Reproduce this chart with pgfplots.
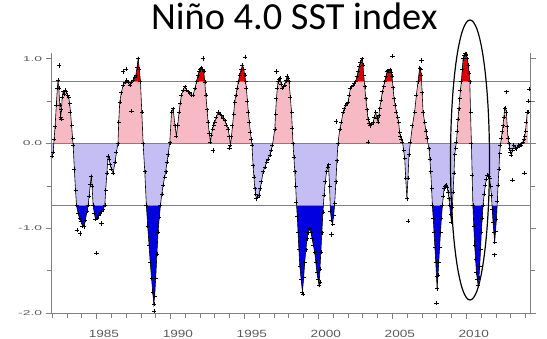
\documentclass[border=0pt]{standalone}
\usepackage{pgfplots}
\pgfplotsset{compat=1.18}
\usepackage{pgfplotstable}
\usepackage{graphicx}
\usepackage{fontspec}
\newfontfamily\titlefont{Carlito}
\newfontfamily\tickfont{Liberation Sans}
\definecolor{pinkc}{RGB}{247,185,196}
\definecolor{redc}{RGB}{222,0,0}
\definecolor{lavc}{RGB}{196,190,245}
\definecolor{bluec}{RGB}{0,0,225}
\definecolor{axgray}{RGB}{128,128,128}
\definecolor{labgray}{RGB}{90,90,90}

\pgfplotstableread{
t v
1982.00 -0.15
1982.07 -0.10
1982.13 0.05
1982.20 0.20
1982.28 0.45
1982.35 0.65
1982.40 0.75
1982.45 0.65
1982.52 0.45
1982.57 0.31
1982.63 0.40
1982.68 0.55
1982.74 0.61
1982.82 0.58
1982.90 0.63
1982.97 0.61
1983.05 0.57
1983.12 0.55
1983.18 0.47
1983.24 0.37
1983.31 0.22
1983.38 0.06
1983.42 -0.02
1983.50 -0.30
1983.58 -0.55
1983.65 -0.73
1983.75 -0.82
1983.85 -0.88
1983.95 -0.92
1984.05 -0.97
1984.15 -0.98
1984.25 -0.90
1984.35 -0.80
1984.43 -0.73
1984.50 -0.62
1984.58 -0.48
1984.64 -0.39
1984.70 -0.50
1984.77 -0.73
1984.85 -0.82
1984.93 -0.89
1985.05 -0.88
1985.15 -0.85
1985.25 -0.82
1985.35 -0.80
1985.45 -0.77
1985.56 -0.73
1985.62 -0.55
1985.70 -0.35
1985.78 -0.15
1985.85 -0.18
1985.92 -0.25
1986.00 -0.30
1986.12 -0.35
1986.25 -0.22
1986.35 -0.10
1986.45 0.00
1986.50 0.25
1986.57 0.49
1986.68 0.60
1986.80 0.69
1986.92 0.72
1987.03 0.75
1987.14 0.72
1987.25 0.69
1987.36 0.72
1987.47 0.75
1987.57 0.78
1987.66 0.81
1987.74 0.90
1987.81 1.00
1987.89 0.88
1987.97 0.73
1988.06 0.37
1988.15 0.00
1988.26 -0.33
1988.37 -0.73
1988.46 -0.97
1988.55 -1.20
1988.63 -1.40
1988.72 -1.59
1988.80 -1.75
1988.87 -1.89
1988.93 -1.80
1989.00 -1.59
1989.08 -1.30
1989.16 -1.04
1989.24 -0.87
1989.32 -0.73
1989.41 -0.60
1989.50 -0.49
1989.60 -0.40
1989.68 -0.33
1989.76 -0.22
1989.84 -0.13
1989.95 0.01
1990.07 0.37
1990.18 0.41
1990.30 0.21
1990.40 0.09
1990.49 0.22
1990.58 0.37
1990.66 0.48
1990.74 0.57
1990.85 0.63
1990.97 0.67
1991.08 0.63
1991.19 0.61
1991.30 0.60
1991.42 0.57
1991.53 0.57
1991.65 0.65
1991.76 0.73
1991.85 0.80
1991.93 0.85
1992.01 0.88
1992.09 0.89
1992.17 0.88
1992.25 0.85
1992.32 0.72
1992.39 0.57
1992.47 0.40
1992.54 0.25
1992.62 0.12
1992.70 0.02
1992.77 0.10
1992.84 0.17
1992.92 0.22
1992.99 0.25
1993.10 0.31
1993.22 0.37
1993.33 0.35
1993.45 0.33
1993.56 0.30
1993.67 0.27
1993.78 0.22
1993.90 0.17
1993.98 0.08
1994.05 -0.02
1994.12 0.08
1994.19 0.21
1994.27 0.35
1994.34 0.49
1994.42 0.57
1994.50 0.65
1994.59 0.73
1994.68 0.81
1994.77 0.87
1994.86 0.92
1994.94 0.88
1995.02 0.81
1995.08 0.73
1995.13 0.65
1995.20 0.50
1995.26 0.37
1995.33 0.25
1995.40 0.13
1995.46 0.05
1995.51 -0.02
1995.58 -0.26
1995.64 -0.40
1995.70 -0.53
1995.76 -0.60
1995.81 -0.65
1995.89 -0.63
1995.97 -0.61
1996.06 -0.53
1996.15 -0.45
1996.26 -0.33
1996.38 -0.28
1996.49 -0.22
1996.60 -0.18
1996.71 -0.14
1996.80 -0.08
1996.89 -0.02
1997.05 0.17
1997.10 0.35
1997.16 0.53
1997.22 0.65
1997.27 0.73
1997.33 0.76
1997.39 0.77
1997.48 0.70
1997.57 0.65
1997.65 0.67
1997.72 0.69
1997.80 0.74
1997.88 0.79
1997.95 0.77
1998.01 0.73
1998.10 0.55
1998.18 0.37
1998.23 0.18
1998.28 0.00
1998.34 -0.16
1998.40 -0.33
1998.46 -0.50
1998.51 -0.69
1998.57 -0.86
1998.62 -1.04
1998.68 -1.25
1998.74 -1.44
1998.83 -1.60
1998.92 -1.75
1999.00 -1.58
1999.07 -1.40
1999.15 -1.25
1999.23 -1.12
1999.32 -1.05
1999.41 -1.00
1999.49 -1.05
1999.57 -1.12
1999.66 -1.20
1999.75 -1.28
1999.82 -1.40
1999.90 -1.52
1999.97 -1.60
2000.04 -1.67
2000.10 -1.48
2000.16 -1.28
2000.23 -1.05
2000.30 -0.81
2000.38 -0.61
2000.46 -0.45
2000.55 -0.33
2000.62 -0.28
2000.68 -0.25
2000.75 -0.50
2000.81 -0.80
2000.88 -0.90
2000.95 -0.95
2001.03 -0.85
2001.10 -0.70
2001.18 -0.45
2001.25 -0.20
2001.32 0.00
2001.44 0.17
2001.55 0.25
2001.66 0.37
2001.75 0.41
2001.84 0.45
2001.92 0.47
2002.00 0.49
2002.08 0.57
2002.16 0.65
2002.25 0.67
2002.34 0.69
2002.43 0.71
2002.52 0.73
2002.60 0.79
2002.68 0.85
2002.76 0.91
2002.84 0.96
2002.95 1.00
2003.01 0.92
2003.06 0.81
2003.13 0.67
2003.20 0.53
2003.28 0.40
2003.35 0.29
2003.43 0.24
2003.51 0.21
2003.60 0.23
2003.69 0.25
2003.78 0.31
2003.87 0.37
2003.95 0.30
2004.03 0.25
2004.08 0.33
2004.14 0.41
2004.23 0.51
2004.32 0.61
2004.40 0.67
2004.48 0.73
2004.56 0.79
2004.64 0.85
2004.73 0.86
2004.82 0.87
2004.90 0.84
2004.97 0.79
2005.04 0.66
2005.11 0.53
2005.19 0.45
2005.27 0.37
2005.35 0.31
2005.42 0.25
2005.49 0.13
2005.54 0.09
2005.60 0.05
2005.68 0.02
2005.76 -0.08
2005.83 -0.17
2005.90 -0.41
2005.98 -0.65
2006.05 -0.41
2006.12 -0.13
2006.22 0.02
2006.35 0.21
2006.50 0.37
2006.62 0.57
2006.73 0.73
2006.84 0.89
2006.90 0.88
2006.95 0.81
2007.01 0.60
2007.07 0.37
2007.18 0.25
2007.26 0.15
2007.34 0.06
2007.47 -0.06
2007.53 -0.18
2007.59 -0.33
2007.65 -0.53
2007.70 -0.73
2007.76 -0.88
2007.81 -1.04
2007.87 -1.22
2007.93 -1.40
2007.98 -1.56
2008.02 -1.71
2008.08 -1.55
2008.13 -1.40
2008.19 -1.22
2008.25 -1.04
2008.31 -0.88
2008.38 -0.73
2008.44 -0.62
2008.49 -0.53
2008.57 -0.50
2008.65 -0.49
2008.70 -0.52
2008.76 -0.57
2008.82 -0.65
2008.87 -0.73
2008.93 -0.83
2008.99 -0.93
2009.05 -0.75
2009.10 -0.57
2009.16 -0.35
2009.21 -0.13
2009.27 -0.05
2009.33 0.02
2009.38 0.15
2009.43 0.29
2009.49 0.41
2009.55 0.53
2009.60 0.63
2009.66 0.73
2009.72 0.87
2009.78 1.00
2009.84 1.04
2009.90 1.06
2009.96 1.05
2010.00 1.04
2010.07 1.00
2010.13 0.92
2010.18 0.83
2010.23 0.73
2010.28 0.37
2010.34 0.00
2010.39 -0.37
2010.44 -0.73
2010.50 -0.97
2010.56 -1.20
2010.62 -1.36
2010.68 -1.52
2010.74 -1.60
2010.79 -1.67
2010.85 -1.58
2010.90 -1.44
2010.96 -1.24
2011.01 -1.04
2011.07 -0.88
2011.12 -0.73
2011.20 -0.60
2011.28 -0.49
2011.35 -0.42
2011.42 -0.37
2011.50 -0.38
2011.57 -0.41
2011.63 -0.50
2011.69 -0.61
2011.75 -0.78
2011.80 -0.93
2011.86 -1.05
2011.91 -1.16
2011.97 -1.03
2012.03 -0.89
2012.09 -0.68
2012.14 -0.49
2012.20 -0.30
2012.25 -0.12
2012.30 -0.02
2012.36 0.06
2012.42 0.14
2012.47 0.21
2012.53 0.31
2012.59 0.41
2012.64 0.42
2012.70 0.37
2012.76 0.20
2012.81 0.06
2012.87 0.00
2012.93 -0.06
2012.98 -0.10
2013.04 -0.14
2013.12 -0.08
2013.20 -0.02
2013.29 -0.05
2013.38 -0.06
2013.45 -0.04
2013.53 -0.02
2013.60 -0.03
2013.66 -0.02
2013.74 0.00
2013.82 0.02
2013.88 0.05
2013.94 0.09
2014.00 0.15
2014.05 0.25
2014.11 0.37
2014.16 0.37
}\data

\pgfplotstableread{
t v
1982.47 0.92
1982.63 0.29
1983.69 -1.02
1983.90 -1.06
1985.00 -1.29
1985.34 -0.94
1986.80 0.85
1987.00 0.88
1987.36 0.38
1988.90 -1.97
1992.20 1.00
1992.88 -0.08
1994.00 -0.05
1995.02 1.02
1997.16 0.85
1998.96 -1.77
2000.10 -1.63
2000.88 -1.07
2001.20 0.26
2003.35 0.02
2005.00 1.03
2006.05 -0.91
2006.96 0.98
2007.97 -1.88
2011.91 -1.31
2012.72 0.61
2013.12 -0.43
2013.94 -0.35
2014.20 0.50
2014.23 0.64
}\outl

\begin{document}
\begin{tikzpicture}
\useasboundingbox (-51.7bp,-25.7bp) rectangle (495.3bp,313.3bp);
\begin{axis}[
  at={(0,0)}, anchor=south west,
  scale only axis, width=478.3bp, height=260.6bp,
  xmin=1981.97, xmax=2014.3, ymin=-2, ymax=1.07,
  axis x line*=bottom, axis y line*=box,
  axis line style={axgray, line width=0.9bp, -},
  clip=false,
  tick align=outside,
  major tick length=6bp, minor tick length=5bp,
  tick style={axgray, line width=0.8bp},
  xtick={1985,1990,...,2010},
  xticklabels={\scalebox{1.3}[1]{1985},\scalebox{1.3}[1]{1990},\scalebox{1.3}[1]{1995},\scalebox{1.3}[1]{2000},\scalebox{1.3}[1]{2005},\scalebox{1.3}[1]{2010}},
  minor xtick={1982,...,2014},
  ytick={-2,-1,0,1},
  yticklabels={\scalebox{2}[1]{-2.0},\scalebox{2}[1]{-1.0},\scalebox{2}[1]{0.0},\scalebox{2}[1]{1.0}},
  minor ytick={-1.5,-0.5,0.5},
  xticklabel style={font=\tickfont\fontsize{10.5}{12}\selectfont, text=labgray, xshift=7.4bp, yshift=-7.5bp},
  yticklabel style={font=\tickfont\fontsize{7}{8}\selectfont, text=labgray},
]
\begin{scope}
\clip (axis cs:1980,0) rectangle (axis cs:2016,0.73);
\addplot[fill=pinkc, draw=none] table[x=t,y=v] {\data} \closedcycle;
\end{scope}
\begin{scope}
\clip (axis cs:1980,0.73) rectangle (axis cs:2016,1.5);
\addplot[fill=redc, draw=none] table[x=t,y=v] {\data} \closedcycle;
\end{scope}
\begin{scope}
\clip (axis cs:1980,-0.73) rectangle (axis cs:2016,0);
\addplot[fill=lavc, draw=none] table[x=t,y=v] {\data} \closedcycle;
\end{scope}
\begin{scope}
\clip (axis cs:1980,-2.5) rectangle (axis cs:2016,-0.73);
\addplot[fill=bluec, draw=none] table[x=t,y=v] {\data} \closedcycle;
\end{scope}
\addplot[axgray, line width=0.9bp] coordinates {(1981.97,0.73) (2014.3,0.73)};
\addplot[axgray, line width=0.9bp] coordinates {(1981.97,0) (2014.3,0)};
\addplot[axgray, line width=0.9bp] coordinates {(1981.97,-0.73) (2014.3,-0.73)};
\addplot[black, line width=0.6bp, mark=+, mark size=2bp, mark options={line width=0.5bp}] table[x=t,y=v] {\data};
\addplot[only marks, black, mark=+, mark size=2.2bp, mark options={line width=0.5bp}] table[x=t,y=v] {\outl};
\end{axis}
\node[anchor=base, font=\titlefont\fontsize{38.5}{44}\selectfont] at (242.6bp,284bp) {Niño 4.0 SST index};
\draw[line width=1.2bp] (418.3bp,153.3bp) ellipse [x radius=19.5bp, y radius=140bp];
\end{tikzpicture}
\end{document}
